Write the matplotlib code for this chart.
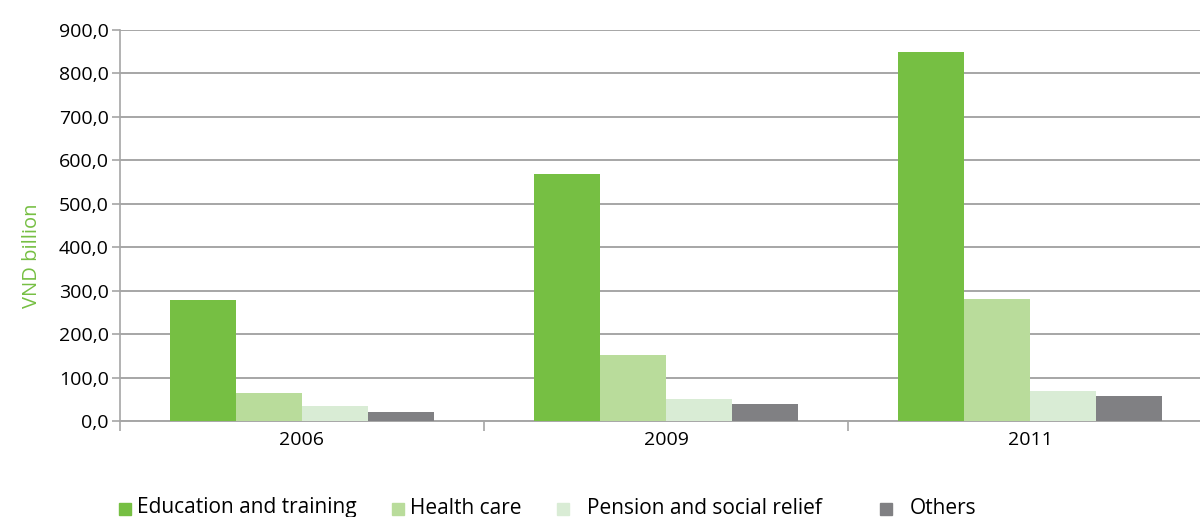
import matplotlib
matplotlib.use("Agg")
import matplotlib.pyplot as plt
from matplotlib.patches import Rectangle
import numpy as np

years = ["2006", "2009", "2011"]
series = ["Education and training", "Health care", "Pension and social relief", "Others"]
education = [279, 568, 849]
health = [65, 151, 280]
pension = [35, 51, 68]
others = [21, 38, 58]
colors = ["#76BF43", "#B9DC9B", "#D9ECD5", "#808083"]

plt.rcParams['font.family'] = ['Open Sans', 'DejaVu Sans']

W, H = 1200, 517
fig = plt.figure(figsize=(W / 100, H / 100), dpi=100)
ax = fig.add_axes([120 / W, 1 - 421 / H, 1092 / W, 391 / H])

x = np.arange(len(years))
w = 0.1813
grid_c = "#A6A6A6"
for i, vals in enumerate([education, health, pension, others]):
    ax.bar(x + (i - 1.5) * w, vals, w, color=colors[i], zorder=3, linewidth=0)

ax.set_xlim(-0.5, 2.5)
ax.set_ylim(0, 900)
ax.set_yticks(np.arange(0, 901, 100))
ax.set_yticklabels([f"{v:.1f}".replace(".", ",") for v in np.arange(0, 901, 100)], fontsize=14)
ax.yaxis.grid(True, color=grid_c, linewidth=1.4, zorder=0)
ax.set_xticks([-0.5, 0.5, 1.5, 2.5])
ax.set_xticklabels([])
ax.set_xticks(x, minor=True)
ax.set_xticklabels(years, minor=True, fontsize=14)
ax.tick_params(axis='x', which='minor', length=0, pad=7)
ax.tick_params(axis='x', which='major', length=7, color=grid_c, width=1.2)
ax.tick_params(axis='y', length=6, color=grid_c, width=1.2, pad=2)
for s in ["top", "right"]:
    ax.spines[s].set_visible(False)
ax.spines["left"].set_color(grid_c)
ax.spines["bottom"].set_color(grid_c)
ax.spines["left"].set_linewidth(1.2)
ax.spines["bottom"].set_linewidth(1.4)
ax.set_ylabel("VND billion", color="#76BF43", fontsize=14.5)
ax.yaxis.set_label_coords(-78 / 1092, (421 - 256) / 391)

# legend drawn by hand along the bottom edge
sq_x = [119, 392, 557, 880]
txt_x = [137, 410, 587, 910]
for i, name in enumerate(series):
    fig.patches.append(Rectangle((sq_x[i] / W, 1 - 515 / H), 12 / W, 12 / H,
                                 transform=fig.transFigure, color=colors[i]))
    fig.text(txt_x[i] / W, 1 - 508 / H, name, fontsize=15, va="center", ha="left")

fig.savefig("out.png", dpi=100)
